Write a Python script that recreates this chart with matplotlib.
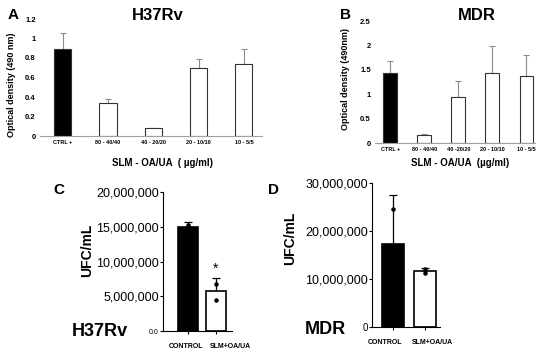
#------------------------------------------------imports---------------------------------------------------------------
import matplotlib
matplotlib.use("Agg")
import matplotlib.pyplot as plt
import matplotlib.transforms as mtransforms
import numpy as np

#-------------------------------------------------settings-------------------------------------------------------------
plt.rcParams['font.family'] = ['Liberation Sans', 'DejaVu Sans']
GRAY = '#8c8c8c'

#---------------------------------------------------data---------------------------------------------------------------
dose_labels_a = ['CTRL +', '80 - 40/40', '40 - 20/20', '20 - 10/10', '10 - 5/5']
od_h37rv = [0.89, 0.34, 0.08, 0.70, 0.74]
od_h37rv_err = [0.17, 0.04, 0.0, 0.09, 0.15]

dose_labels_b = ['CTRL +', '80 - 40/40', '40 -20/20', '20 - 10/10', '10 - 5/5']
od_mdr = [1.43, 0.16, 0.95, 1.43, 1.38]
od_mdr_err = [0.26, 0.03, 0.33, 0.56, 0.42]

groups = ['CONTROL', 'SLM+OA/UA']
ufc_h37rv = [15.0e6, 5.8e6]
ufc_h37rv_err_lo = [0.0, 1.8e6]
ufc_h37rv_err_hi = [0.7e6, 1.8e6]
ufc_h37rv_pts = [[15.3e6, 14.7e6], [6.7e6, 4.5e6]]

ufc_mdr = [17.2e6, 11.7e6]
ufc_mdr_err_lo = [0.0, 0.5e6]
ufc_mdr_err_hi = [10.3e6, 0.5e6]
ufc_mdr_pts = [[24.5e6, 9.9e6], [12.0e6, 11.3e6]]

#---------------------------------------------------figure-------------------------------------------------------------
W, H = 550.0, 356.0
fig = plt.figure(figsize=(5.5, 3.56), dpi=100)


def box(left, right, top, bottom):
    # pixel box -> figure fraction
    return [left / W, 1 - bottom / H, (right - left) / W, (bottom - top) / H]


def fx(x):
    return x / W


def fy(y):
    return 1 - y / H


#------------------------------------------------excel panels----------------------------------------------------------
def excel_panel(rect, vals, errs, labels, ymax, ystep, xlim, bw):
    ax = fig.add_axes(rect)
    x = np.arange(len(vals))
    colors = ['black'] + ['white'] * (len(vals) - 1)
    ax.bar(x, vals, width=bw, color=colors, edgecolor='#333333', linewidth=0.8, zorder=2)
    ax.errorbar(x, vals, yerr=[np.zeros(len(vals)), errs], fmt='none', ecolor=GRAY,
                elinewidth=0.8, capsize=2, capthick=0.8, zorder=1)
    ax.set_xlim(*xlim)
    ax.set_ylim(0, ymax)
    ticks = np.arange(0, ymax + 1e-9, ystep)
    ax.set_yticks(ticks)
    ax.set_yticklabels(['%g' % t for t in ticks], fontsize=5.5, fontweight='bold')
    ax.set_xticks(x)
    ax.set_xticklabels(labels, fontsize=4, fontweight='bold')
    ax.tick_params(axis='both', length=0, pad=3)
    for s in ['top', 'right', 'left']:
        ax.spines[s].set_visible(False)
    ax.spines['bottom'].set_color('#a0a0a0')
    ax.spines['bottom'].set_linewidth(0.8)
    return ax


excel_panel(box(40, 262, 19, 136), od_h37rv, od_h37rv_err, dose_labels_a, 1.2, 0.2, (-0.5, 4.4), 0.38)
excel_panel(box(375, 535, 21, 143), od_mdr, od_mdr_err, dose_labels_b, 2.5, 0.5, (-0.45, 4.25), 0.41)

fig.text(fx(8), fy(15), 'A', fontsize=11, fontweight='bold', ha='left', va='center')
fig.text(fx(158), fy(15), 'H37Rv', fontsize=12, fontweight='bold', ha='center', va='center')
fig.text(fx(340), fy(15), 'B', fontsize=11, fontweight='bold', ha='left', va='center')
fig.text(fx(477), fy(15), 'MDR', fontsize=12, fontweight='bold', ha='center', va='center')
fig.text(fx(12), fy(85), 'Optical density (490 nm)', fontsize=6.5, fontweight='bold',
         rotation=90, ha='center', va='center')
fig.text(fx(345), fy(79), 'Optical density (490nm)', fontsize=6.5, fontweight='bold',
         rotation=90, ha='center', va='center')
fig.text(fx(163), fy(163), 'SLM - OA/UA  ( \u00b5g/ml)', fontsize=7, fontweight='bold',
         ha='center', va='center')
fig.text(fx(460), fy(163), 'SLM - OA/UA  (\u00b5g/ml)', fontsize=7, fontweight='bold',
         ha='center', va='center')


#-----------------------------------------------prism panels-----------------------------------------------------------
def prism_panel(rect, vals, lo, hi, pts, ymax, ystep, xlim, bw, zero_label, zero_size,
                label_dy, label_shift):
    ax = fig.add_axes(rect)
    x = np.arange(len(vals))
    ax.bar(x, vals, width=bw, color=['black', 'white'], edgecolor='black', linewidth=1.2, zorder=2)
    ax.errorbar(x, vals, yerr=[lo, hi], fmt='none', ecolor='black', elinewidth=0.9,
                capsize=3, capthick=0.9, zorder=1)
    for i, p in enumerate(pts):
        ax.scatter([x[i]] * len(p), p, s=5, color='black', zorder=3, clip_on=False)
    ax.set_xlim(*xlim)
    ax.set_ylim(0, ymax)
    ticks = np.arange(0, ymax + 1, ystep)
    ax.set_yticks(ticks)
    ax.set_yticklabels([zero_label] + ['{:,.0f}'.format(t) for t in ticks[1:]], fontsize=9)
    ax.get_yticklabels()[0].set_fontsize(zero_size)
    ax.set_xticks(x)
    ax.set_xticklabels([])
    # group labels sit a little off the ticks in the original
    base = mtransforms.blended_transform_factory(ax.transData, ax.transAxes)
    for xi, name, dx in zip(x, groups, label_shift):
        tr = base + mtransforms.ScaledTranslation(dx / 100.0, label_dy / 100.0, fig.dpi_scale_trans)
        ax.text(xi, 0, name, transform=tr, fontsize=5, fontweight='bold',
                ha='center', va='center', clip_on=False)
    ax.tick_params(axis='y', length=2.5, width=0.8, pad=0.5)
    ax.tick_params(axis='x', length=2, width=0.8)
    for s in ['top', 'right']:
        ax.spines[s].set_visible(False)
    for s in ['left', 'bottom']:
        ax.spines[s].set_linewidth(0.8)
    return ax


axc = prism_panel(box(163, 232, 192, 331), ufc_h37rv, ufc_h37rv_err_lo, ufc_h37rv_err_hi,
                  ufc_h37rv_pts, 20e6, 5e6, (-0.89, 1.57), 0.72, '0.0', 5, -15, (-2, 14))
axc.text(1, 8.9e6, '*', fontsize=10, ha='center', va='center')
prism_panel(box(372, 440, 183, 327), ufc_mdr, ufc_mdr_err_lo, ufc_mdr_err_hi,
            ufc_mdr_pts, 30e6, 10e6, (-0.66, 1.47), 0.69, '0', 7, -16, (-8, 7))

fig.text(fx(53), fy(190), 'C', fontsize=11, fontweight='bold', ha='left', va='center')
fig.text(fx(268), fy(190), 'D', fontsize=11, fontweight='bold', ha='left', va='center')
fig.text(fx(87), fy(250), 'UFC/mL', fontsize=10, fontweight='bold', rotation=90,
         ha='center', va='center')
fig.text(fx(290), fy(238), 'UFC/mL', fontsize=10, fontweight='bold', rotation=90,
         ha='center', va='center')
fig.text(fx(100), fy(332), 'H37Rv', fontsize=13, fontweight='bold', ha='center', va='center')
fig.text(fx(325), fy(330), 'MDR', fontsize=13, fontweight='bold', ha='center', va='center')

#----------------------------------------------------saving------------------------------------------------------------
fig.savefig('out.png', dpi=100)
